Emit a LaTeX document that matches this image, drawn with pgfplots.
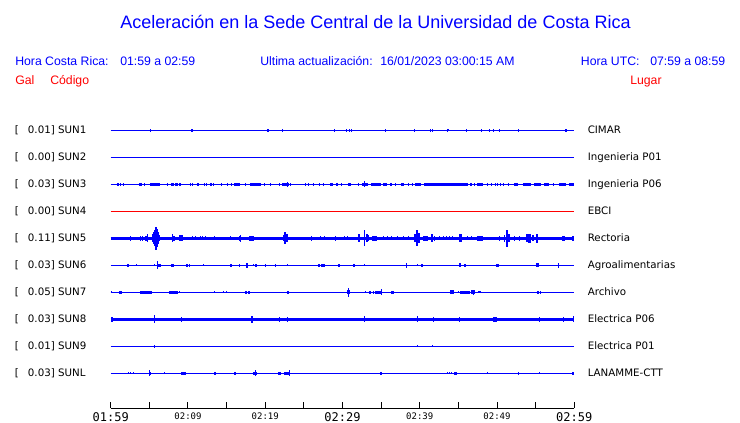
\documentclass[border=0pt]{standalone}
\usepackage{pgfplots}
\pgfplotsset{compat=1.18}
\usepackage{pgfplotstable}
\usepackage{fontspec}
\setmainfont{Liberation Sans}
\newfontfamily\dejavu{DejaVu Sans}
\newfontfamily\dmono{DejaVu Sans Mono}
\newcommand\bigtick{\dmono\fontsize{9pt}{9pt}\selectfont}
\newcommand\smtick{\dmono\fontsize{6.75pt}{6.75pt}\selectfont}
\newcommand\hdr{\fontsize{9.2pt}{11pt}\selectfont}
\newcommand\lab{\dejavu\fontsize{7.7pt}{9pt}\selectfont}

\pgfdeclareplotmark{blk}{%
  \pgfpathrectanglecorners{\pgfpoint{-0.375pt*\bw}{-0.75pt*\ba}}{\pgfpoint{0.375pt*\bw}{0.75pt*\ba}}%
  \pgfusepathqfill}

% SUN1 CIMAR
\pgfplotstableread{
t w a
5.20 1 1.3
7.27 1 0.7
8.56 1 0.7
10.54 2.5 1.3
16.04 1 0.6
19.40 1 0.6
20.34 2.5 1.3
22.24 1 1.3
28.95 1 1.3
30.49 1 1.3
30.88 1 1.3
31.10 1 1.3
35.53 1 1.3
39.31 1 1.3
41.33 1 1.3
41.59 1 1.3
43.53 1 1.3
43.74 1 1.0
46.11 1 1.3
48.04 1 1.3
49.08 1 1.3
49.59 1 1.3
50.37 1 1.3
52.82 1 1.3
57.59 1 0.7
58.92 2.5 1.5
}\sunA
% SUN2
\pgfplotstableread{
t w a
39.66 1 0.8
}\sunB
% SUN3
\pgfplotstableread{
t w a
0.92 2.3 1.7
1.29 1 1.7
1.72 1 1.7
2.80 1 0.7
3.87 3.3 1.7
4.34 1 1.7
5.72 10 1.7
7.40 1 1.7
8.02 2.5 1.7
8.56 2.7 1.7
9.03 2 1.7
10.37 1 1.7
10.62 1 1.7
11.27 2 1.7
12.17 1 1.7
12.43 1 1.7
12.97 2.3 1.7
13.33 1 1.7
14.32 1 1.7
15.10 1 1.7
15.57 1 1.7
16.39 6 1.7
17.42 1 1.7
18.73 11 1.7
19.91 1 1.7
20.69 1 1.7
21.81 1 1.7
22.58 6.7 1.7
22.92 1 2.8
23.27 1 1.7
25.16 1 1.7
25.59 1 1.7
26.28 1 1.7
27.05 1 1.7
27.57 1 1.7
28.58 2.3 1.7
29.31 2.3 1.7
29.81 1 1.7
30.88 3.3 1.7
32.13 1 1.7
32.95 6 1.7
32.82 1 3.0
34.28 10 1.7
35.46 3.7 1.7
36.17 1 1.7
36.39 1 1.7
36.90 1 1.7
37.74 3 1.7
38.49 1 1.7
39.01 1 1.7
39.78 6.7 1.7
43.40 44 1.7
46.62 2 1.7
47.10 1 1.7
47.83 6 1.7
48.73 1 1.7
49.33 1 1.7
49.76 1 1.7
50.11 1 1.7
50.45 1 1.7
50.80 1 1.7
51.53 1 1.7
52.43 4 1.7
53.87 8.3 1.7
55.27 6.7 1.7
56.45 5 1.7
57.25 1 1.7
58.49 6.7 1.7
59.68 5 1.7
}\sunC
% SUN5
\pgfplotstableread{
t w a
2.54 1 2.3
3.83 1 2.7
4.09 1 2.7
4.65 3.3 2.2
4.82 1 4
5.38 1.5 4
5.59 1.5 6
5.76 1.5 8
5.89 1.5 11.5
6.02 1.5 9
6.15 1.5 6
6.32 1.5 3
8.04 1 4
8.22 2 2.5
9.14 3.7 3
10.54 1 2
10.97 1 2
11.57 1 2
11.87 1 2
12.26 1 2
13.46 1 2
15.53 1 2
16.73 2.7 2.5
16.82 1 3.5
18.17 5 2.2
22.37 2 3
22.58 2 6
22.80 2 4
26.02 1 2.5
27.10 1 2
27.61 1 2
29.12 1 2.5
30.24 1 2
30.62 1 2
32.13 2 4
32.82 1.5 8
33.16 2 4
33.33 1 3
34.09 5 2.2
35.31 1 2
35.83 1 2
36.34 1 2
37.12 1 2
37.89 1 2
38.49 1 2
39.44 2 4
39.66 1.5 8
39.87 2 5
40.73 5 2.5
41.63 2 4
41.85 1 2.5
42.58 1 2
43.01 1 2
43.44 1 2
43.87 1 2
44.30 1 2
45.25 3 4
46.24 1 2
46.67 1 2
47.74 6 2.5
50.32 1 2.5
50.97 1.5 3.5
51.31 1.5 8.5
51.53 1.5 4
52.26 1 2.5
52.90 1 2.5
53.89 2 4
54.19 2.5 4.5
54.62 2 3
55.18 2.5 4.5
58.62 3 2.5
59.78 2 2.5
}\sunE
% SUN6
\pgfplotstableread{
t w a
2.28 2 1.5
3.31 1 1
5.72 1 1
6.11 1 4
6.32 3 1.7
8.04 3 1.5
9.89 2 1.5
10.19 1 1.5
12.00 1 1
15.61 2 1.3
16.65 1 1.3
17.68 2 2.5
18.54 1 1
18.84 2 1.5
20.00 1 1.7
21.29 1 1.3
22.88 1 1
26.92 2 1.5
27.48 3.3 1.5
29.55 2 1.3
31.48 2 1.3
32.82 1 1
38.28 1.5 2.3
39.70 1 1
40.26 2 1.5
45.20 2 2
45.89 2 1.3
49.33 1 0.7
50.11 3 1.5
51.18 1 0.7
52.17 1 0.7
55.18 3 2
57.94 1.5 2.3
}\sunF
% SUN7
\pgfplotstableread{
t w a
0.09 1 1
1.29 3.3 1.5
4.58 12 1.5
6.24 1 0.7
7.18 1 0.7
8.13 9.3 1.5
8.90 1 1
10.02 1 0.7
13.38 1 1
14.58 1 1
15.01 1 1
17.51 2 1.3
17.85 2 1.3
18.67 1 0.7
22.92 2 1.3
30.75 3 2
30.75 1 4.5
32.95 1 1
33.59 2 1.3
33.98 1 1.3
34.71 7 1.5
35.01 1 3
36.43 3 1.5
44.13 4 2
45.03 1 1
45.81 9.7 1.5
46.88 4 2
47.01 1 2.5
47.74 3 1
49.76 1 0.7
51.53 1 0.7
54.37 1 0.7
55.35 2 1.5
55.57 1 1.5
}\sunG
% SUN8
\pgfplotstableread{
t w a
0.22 2 2.5
5.72 1 4
9.16 1 2.5
18.28 1.5 3.5
21.85 1 2.7
22.92 1 2.7
32.82 1.5 3
39.70 1 3
41.72 1 2.7
45.20 1 2.2
49.76 4 2.2
55.48 1 2.5
58.62 1 2.7
59.91 1 3
}\sunH
% SUN9
\pgfplotstableread{
t w a
5.72 1 1.5
39.66 1 1
41.63 1 1
}\sunI
% SUNL
\pgfplotstableread{
t w a
2.24 1 1
2.58 1 1
2.97 1 1
5.08 2.3 1.5
5.08 1 3
5.72 1 0.7
6.24 1 0.7
7.01 1 1.2
9.46 4.7 1.5
13.46 2.3 1.5
16.04 2 1.3
16.34 1 0.7
18.62 4 1.5
18.71 1 3
21.85 3 1.3
22.80 6 1.3
23.10 1 3
28.30 1 0.7
32.82 1 0.7
35.01 2.5 1.3
39.66 1 0.7
43.57 1 1
43.87 1 1
44.17 1 1
44.65 3.5 1.5
45.16 1 0.7
48.82 1 1
52.26 1 0.7
52.82 1 1.3
53.76 1 0.7
55.53 1 1
56.43 1 0.7
59.78 2 1.5
}\sunL

\newcommand{\events}[2]{\addplot[blue, only marks, mark=blk,
  visualization depends on={\thisrow{w}\as\bw},
  visualization depends on={\thisrow{a}\as\ba}]
  table[x=t, y expr=#2] {#1};}
\newcommand{\base}[3]{\addplot[#3, line width=#2] coordinates {(0,#1) (60,#1)};}

\begin{document}
\begin{tikzpicture}[x=0.75pt, y=0.75pt]
\path[use as bounding box] (0,0) rectangle (740,423);
\begin{axis}[
  at={(83.025pt,11.025pt)}, anchor=origin,
  scale only axis, width=347.7pt, height=216.2pt,
  xmin=0, xmax=60, ymin=0, ymax=288.3,
  axis x line=bottom, axis y line=none,
  x axis line style={-, black, line width=0.75pt},
  xtick={0,5,...,60},
  xticklabels={{\bigtick 01:59},{},{\smtick 02:09},{},{\smtick 02:19},{},{\bigtick 02:29},{},{\smtick 02:39},{},{\smtick 02:49},{},{\bigtick 02:59}},
  xticklabel style={anchor=north, inner sep=0pt, yshift=-3pt, black},
  tick align=inside, major tick length=4.95pt,
  every tick/.style={black, line width=0.75pt},
  clip=false,
]
\base{278}{0.75pt}{blue}
\base{251}{0.75pt}{blue}
\base{224}{0.75pt}{blue}
\base{197}{0.75pt}{red}
\base{170}{2.5pt}{blue}
\base{143}{0.75pt}{blue}
\base{116}{0.75pt}{blue}
\base{89}{2.25pt}{blue}
\base{62}{0.75pt}{blue}
\base{35}{0.75pt}{blue}
\events{\sunA}{278}
\events{\sunB}{251}
\events{\sunC}{224}
\events{\sunE}{170}
\events{\sunF}{143}
\events{\sunG}{116}
\events{\sunH}{89}
\events{\sunI}{62}
\events{\sunL}{35}
\end{axis}
% title and headers
\node[anchor=base, blue, inner sep=0pt, font=\fontsize{13.5pt}{16pt}\selectfont] at (375.5,394.5) {Aceleración en la Sede Central de la Universidad de Costa Rica};
\begin{scope}[every node/.style={anchor=base west, inner sep=0pt, font=\hdr}]
\node[blue] at (15,357.5) {Hora Costa Rica:};
\node[blue] at (120,357.5) {01:59 a 02:59};
\node[blue] at (260,357.5) {Ultima actualización:};
\node[blue] at (380,357.5) {16/01/2023 03:00:15 AM};
\node[blue] at (580.7,357.5) {Hora UTC:};
\node[blue] at (650,357.5) {07:59 a 08:59};
\node[red] at (15,338.5) {Gal};
\node[red] at (50,338.5) {Código};
\node[red] at (630,338.5) {Lugar};
\end{scope}
\begin{scope}[every node/.style={anchor=base west, inner sep=0pt, font=\lab, black}]
\foreach \v/\c/\p [count=\i from 0] in {0.01/SUN1/CIMAR, 0.00/SUN2/Ingenieria P01, 0.03/SUN3/Ingenieria P06, 0.00/SUN4/EBCI, 0.11/SUN5/Rectoria, 0.03/SUN6/Agroalimentarias, 0.05/SUN7/Archivo, 0.03/SUN8/Electrica P06, 0.01/SUN9/Electrica P01, 0.03/SUNL/LANAMME-CTT}{
  \pgfmathsetmacro\yy{423-(130.3+27*\i)-3.7}
  \node at (14.7,\yy) {[};
  \node at (27.7,\yy) {\v] \c};
  \node at (587.5,\yy) {\p};
}
\end{scope}
\end{tikzpicture}
\end{document}
